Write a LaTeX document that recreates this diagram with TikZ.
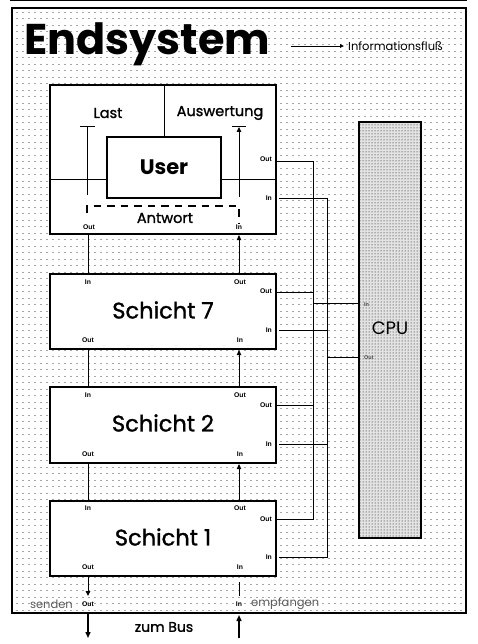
\documentclass[tikz,border=0pt]{standalone}
\usepackage{fontspec}
\setmainfont{Poppins}
\newfontfamily\arialf{Liberation Sans}
\newfontfamily\medf[FakeBold=1.3]{Poppins}
\usetikzlibrary{arrows.meta,patterns}
\begin{document}
\begin{tikzpicture}[x=1pt,y=-1pt,
  box/.style={draw,line width=2.2pt,fill=white,inner sep=0pt},
  wire/.style={line width=0.9pt},
  arr/.style={wire,-{Triangle[length=5pt,width=4.5pt]}},
  busarr/.style={line width=1.4pt,-{Triangle[length=6pt,width=5pt]}},
  port/.style={font=\arialf\bfseries\fontsize{6.8}{7}\selectfont,inner sep=0pt},
  cpuport/.style={font=\arialf\bfseries\fontsize{5.5}{6}\selectfont,inner sep=0pt,text=black!70},
  mid/.style={font=\medf\fontsize{14.5}{16}\selectfont,inner sep=0pt},
  layer/.style={font=\medf\fontsize{22.5}{24}\selectfont,inner sep=0pt},
  side/.style={font=\fontsize{11.5}{13}\selectfont,inner sep=0pt,text=black!65},
]
\useasboundingbox (0,0) rectangle (477,644);
% background dots
\foreach \yy in {12,18.5,...,610} \draw[gray!70,line width=0.85pt,dash pattern=on 1.6pt off 4.4pt] (16,\yy) -- (463,\yy);
% frame
\node[draw,line width=2pt,minimum width=454,minimum height=605,inner sep=0pt] (frame) at (239,310.5) {};
\draw[line width=2pt] (10,0.5) -- (467,0.5);
% title and legend
\node[font=\bfseries\fontsize{43}{46}\selectfont,inner sep=0pt,anchor=west] (title) at (24,44) {Endsystem};
\coordinate (legA) at (291,46);
\node[font=\fontsize{11.5}{13}\selectfont,inner sep=0pt,anchor=west] (legT) at (348,46) {Informationsfluß};
\draw[wire,-{Triangle[length=4pt,width=3.5pt]}] (legA) -- ([xshift=-4pt]legT.west);
% CPU
\node[draw,line width=2.2pt,preaction={fill=gray!22},pattern=dots,pattern color=black,minimum width=62,minimum height=416,inner sep=0pt] (cpu) at (390,330) {};
\node[font=\fontsize{18}{20}\selectfont,inner sep=0pt] (cpuT) at (390,328) {CPU};
\node[cpuport,anchor=west] (cpuInL) at (364,305) {In};
\node[cpuport,anchor=west] (cpuOutL) at (364,358) {Out};
% application box
\node[box,minimum width=226,minimum height=149] (app) at (163,159.5) {};
\node[draw,line width=1.4pt,fill=white,minimum width=114,minimum height=61,inner sep=0pt] (user) at (164,167.5) {};
\node[font=\bfseries\fontsize{21}{24}\selectfont,inner sep=0pt] (userT) at (164,167) {User};
\draw[wire] (app.north -| userT) -- (user.north);
\draw[wire] (app.west |- 0,179) -- (user.west |- 0,179);
\draw[wire] (user.east |- 0,179) -- (app.east |- 0,179);
\node[mid] (last) at (108,113) {Last};
\node[mid] (ausw) at (220,113) {Auswertung};
\node[mid] (antw) at (165,218) {Antwort};
\draw[wire] (80,126) -- (95,126);
\draw[wire] (87,126) -- (87,195);
\draw[wire] (232,126) -- (246,126);
\draw[arr] (239,197) -- (239,127);
\draw[line width=1.2pt,dash pattern=on 7.5pt off 6pt] (87,213) -- (87,206) -- (239,206) -- (239,224);
\node[port] (appOL) at (89,227) {Out};
\node[port] (appIL) at (239,227) {In};
\node[port,anchor=east] (appOR) at (272,159) {Out};
\node[port,anchor=east] (appIR) at (272,198) {In};
% layers
\node[box,minimum width=226,minimum height=75] (s7) at (163,311.5) {};
\node[layer] (s7T) at (163,310) {Schicht 7};
\node[box,minimum width=226,minimum height=76] (s2) at (163,425) {};
\node[layer] (s2T) at (163,423) {Schicht 2};
\node[box,minimum width=226,minimum height=75] (s1) at (163,538.5) {};
\node[layer] (s1T) at (163,537) {Schicht 1};
\foreach \b/\t/\o/\i/\bt in {s7/282/291/330/340, s2/395/405/444/454, s1/508/519/557/567}{
  \node[port] (\b tl) at (88,\t) {In};
  \node[port] (\b tr) at (240,\t) {Out};
  \node[port,anchor=east] (\b ro) at (272,\o) {Out};
  \node[port,anchor=east] (\b ri) at (272,\i) {In};
  \node[port] (\b bl) at (88,\bt) {Out};
  \node[port] (\b br) at (240,\bt) {In};
}
% vertical links
\coordinate (xL) at (88,0);
\coordinate (xR) at (239,0);
\draw[wire] (app.south -| xL) -- (s7.north -| xL);
\draw[arr] (s7.north -| xR) -- (app.south -| xR);
\draw[wire] (s7.south -| xL) -- (s2.north -| xL);
\draw[arr] (s2.north -| xR) -- (s7.south -| xR);
\draw[wire] (s2.south -| xL) -- (s1.north -| xL);
\draw[arr] (s1.north -| xR) -- (s2.south -| xR);
\coordinate (sendE) at (88,596);
\draw[arr] (s1.south -| xL) -- (sendE);
\coordinate (recA) at (239,582);
\coordinate (recB) at (239,596);
\draw[wire] (recA) -- (recB);
\node[port] (sendOut) at (88,604) {Out};
\node[port] (recIn) at (239,604) {In};
\node[side,anchor=east] (senden) at (73,604) {senden};
\node[side,anchor=west] (empf) at (251,604) {empfangen};
\coordinate (busL) at (88,638);
\coordinate (busR) at (239,638);
\draw[busarr] (frame.south -| busL) -- (busL);
\draw[busarr] (busR) -- ([yshift=-1pt]frame.south -| busR);
\node[font=\medf\fontsize{14}{16}\selectfont,inner sep=0pt] (bus) at (164,627) {zum Bus};
% right-side buses
\coordinate (bO) at (313,0);
\coordinate (bI) at (327,0);
\coordinate (appO) at (277,161);
\coordinate (appI) at (279,198);
\coordinate (s7O) at (277,292);
\coordinate (s7I) at (279,330);
\coordinate (s2O) at (277,405);
\coordinate (s2I) at (279,444);
\coordinate (s1O) at (277,519);
\coordinate (s1I) at (279,557);
\draw[wire] (appO) -- (appO -| bO) -- (s1O -| bO) -- (s1O);
\draw[wire] (appI) -- (appI -| bI) -- (s1I -| bI) -- (s1I);
\draw[wire] (s7O) -- (s7O -| bO);
\draw[wire] (s2O) -- (s2O -| bO);
\draw[wire] (s7I) -- (s7I -| bI);
\draw[wire] (s2I) -- (s2I -| bI);
\coordinate (cpuI) at (cpu.west |- 0,303);
\coordinate (cpuO) at (cpu.west |- 0,357);
\draw[wire] (cpuI -| bO) -- (cpuI);
\draw[wire] (cpuO -| bI) -- (cpuO);
\end{tikzpicture}
\end{document}
